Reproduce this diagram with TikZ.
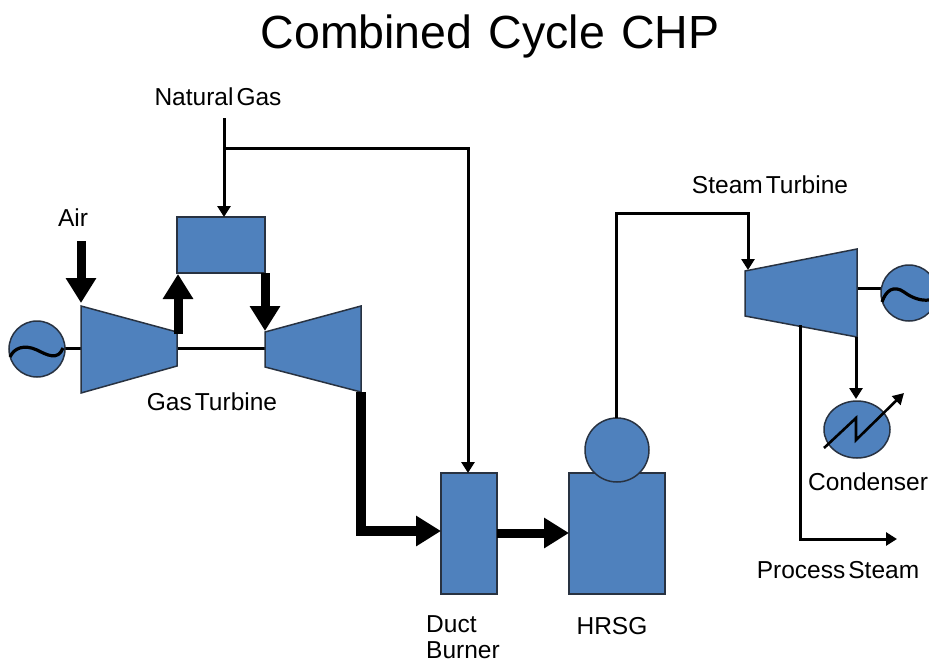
\documentclass[tikz,border=0pt]{standalone}
\usepackage{fontspec}
\setmainfont[WordSpace=0.45]{Liberation Sans}
\newfontfamily\titlefont[WordSpace=1.25]{Liberation Sans}
\usetikzlibrary{arrows.meta,shapes.geometric}
\definecolor{bluef}{RGB}{79,129,189}
\definecolor{edgec}{RGB}{40,50,65}
\begin{document}
\begin{tikzpicture}[x=1pt,y=-1pt,
  shapefill/.style={fill=bluef,draw=edgec,line width=1.5pt,line join=miter},
  boxn/.style={shapefill,inner sep=0pt,outer sep=0pt},
  lbl/.style={font=\fontsize{24.5}{28}\selectfont,inner sep=0pt,text=black},
  plainline/.style={draw=black,line width=3pt},
  wave/.style={draw=black,line width=3.2pt},
  thinarrow/.style={draw=black,line width=3pt,-{Triangle[length=11pt,width=13pt]}},
  fatarrow/.style={draw=black,line width=9pt,-{Triangle[length=25pt,width=29pt]}}]
\path[use as bounding box] (0,0) rectangle (929,662);
\node[lbl,font=\titlefont\fontsize{46.5}{52}\selectfont] (title) at (490,36) {Combined Cycle CHP};
\node[lbl] (ng) at (218,97) {Natural Gas};
\node[lbl] (air) at (73,218) {Air};
\node[lbl] (gt) at (212,402) {Gas Turbine};
\node[lbl] (st) at (770,185) {Steam Turbine};
\node[lbl] (cond) at (868,482) {Condenser};
\node[lbl] (ps) at (838,570) {Process Steam};
\node[lbl,anchor=west] (db1) at (426,624) {Duct};
\node[lbl,anchor=west] (db2) at (426,650) {Burner};
\node[lbl] (hr) at (612,626) {HRSG};
% connector end points
\coordinate (g1r) at (64,348);
\coordinate (compL) at (81,348);
\coordinate (compR) at (177,348);
\coordinate (turbL) at (265,348);
\coordinate (stR) at (857,288);
\coordinate (g2L) at (882,288);
\coordinate (ngfoot) at (224,118);
\coordinate (ngtee) at (224,148);
\coordinate (ngcorner) at (468,148);
\coordinate (airtop) at (81,241);
\coordinate (airtip) at (81,303);
\coordinate (compout) at (178,334);
\coordinate (cbin) at (178,274);
\coordinate (cbout) at (265,273);
\coordinate (turbin) at (265,331);
\coordinate (turbout) at (361,392);
\coordinate (exhcorner) at (361,531);
\coordinate (stcorner1) at (616,213);
\coordinate (stcorner2) at (748,213);
\coordinate (stin) at (748,270);
\coordinate (stout) at (856,337);
\coordinate (condin) at (856,399);
\coordinate (psout) at (800,325);
\coordinate (pscorner) at (800,539);
\coordinate (psend) at (897,539);
% shaft lines
\draw[plainline] (g1r) -- (compL);
\draw[plainline] (compR) -- (turbL);
\draw[plainline] (stR) -- (g2L);
% compressor + turbine
\path[shapefill] (81,306) -- (177,332) -- (177,366) -- (81,393) -- cycle;
\path[shapefill] (265,332) -- (361,306) -- (361,392) -- (265,367) -- cycle;
\node[boxn,minimum width=88pt,minimum height=56pt] (cb) at (221,245) {};
\node[boxn,minimum width=56pt,minimum height=121pt] (db) at (469,533.5) {};
\node[boxn,minimum width=96pt,minimum height=121pt] (hrsg) at (617,533.5) {};
\node[boxn,circle,minimum size=64pt] (drum) at (617,450) {};
\path[shapefill] (745,271) -- (857,249) -- (857,337) -- (745,316) -- cycle;
\node[boxn,circle,minimum size=56pt] (g1) at (37,349) {};
\node[boxn,circle,minimum size=56pt] (g2) at (909,293) {};
\node[boxn,ellipse,minimum width=66pt,minimum height=57pt] (cd) at (857,429.5) {};
\draw[wave] (10,357) .. controls (14,348) and (24,344) .. (37,350) .. controls (47,355) and (58,361) .. (63,348);
\draw[wave] (882,302) .. controls (886,290) and (894,285) .. (904,292) .. controls (912,298) and (921,301) .. (929,300);
\coordinate (hx1) at (824,448);
\coordinate (hx2) at (856,418);
\coordinate (hx3) at (856,440);
\coordinate (hx4) at (904,393);
\draw[draw=black,line width=2.6pt,line join=miter,-{Triangle[length=11pt,width=12pt]}] (hx1) -- (hx2) -- (hx3) -- (hx4);
% arrows
\draw[thinarrow] (ngfoot) -- (cb.north -| ngfoot);
\draw[thinarrow] (ngtee) -- (ngcorner) -- (db.north -| ngcorner);
\draw[fatarrow] (airtop) -- (airtip);
\draw[fatarrow] (compout) -- (cbin);
\draw[fatarrow] (cbout) -- (turbin);
\draw[fatarrow,line width=10pt] (turbout) -- (exhcorner) -- (exhcorner -| db.west);
\draw[fatarrow] (db.east |- 0,533) -- (hrsg.west |- 0,533);
\draw[thinarrow] (drum.north -| stcorner1) -- (stcorner1) -- (stcorner2) -- (stin);
\draw[thinarrow] (stout) -- (condin);
\draw[thinarrow] (psout) -- (pscorner) -- (psend);
\end{tikzpicture}
\end{document}
